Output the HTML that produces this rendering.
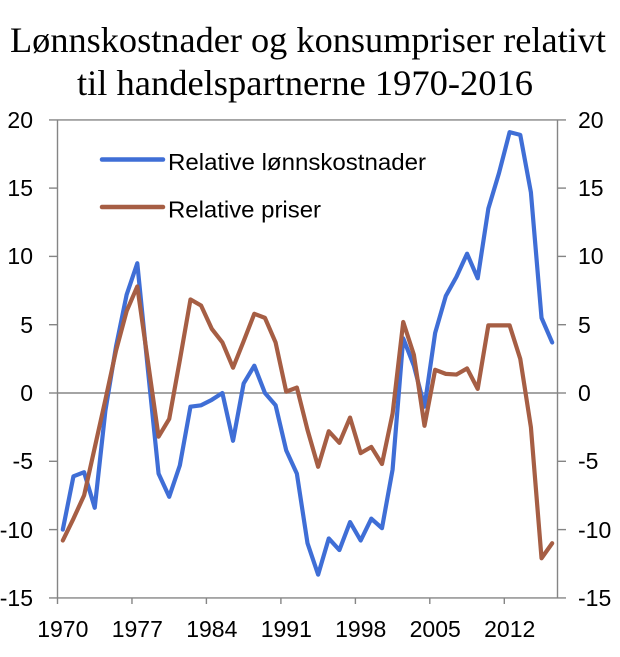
<!DOCTYPE html>
<html>
<head>
<meta charset="utf-8">
<style>
  html, body { margin: 0; padding: 0; background: #ffffff; }
  body { width: 620px; height: 657px; overflow: hidden; }
  svg { display: block; }
  .ax { stroke: #858585; stroke-width: 1.4; fill: none; }
  .lbl { font-family: "Liberation Sans", Arial, sans-serif; font-size: 23px; fill: #000; }
  .ttl { font-family: "Liberation Serif", "Times New Roman", serif; font-size: 36px; fill: #000; }
</style>
</head>
<body>
<svg width="620" height="657" viewBox="0 0 620 657" xmlns="http://www.w3.org/2000/svg">
  <rect x="0" y="0" width="620" height="657" fill="#ffffff"/>

  <!-- Title -->
  <text class="ttl" x="10" y="52" textLength="596" lengthAdjust="spacingAndGlyphs">Lønnskostnader og konsumpriser relativt</text>
  <text class="ttl" x="77" y="95" textLength="456" lengthAdjust="spacingAndGlyphs">til handelspartnerne 1970-2016</text>

  <!-- Plot frame -->
  <line class="ax" x1="49" y1="119.9" x2="566" y2="119.9"/>
  <line class="ax" x1="49" y1="597.9" x2="566" y2="597.9"/>
  <line class="ax" x1="57.5" y1="119.9" x2="57.5" y2="597.9"/>
  <line class="ax" x1="557.5" y1="119.9" x2="557.5" y2="597.9"/>
  <line class="ax" x1="57.5" y1="393" x2="557.5" y2="393"/>

  <!-- Left ticks -->
  <g class="ax">
    <line x1="49" y1="188.1" x2="57.5" y2="188.1"/>
    <line x1="49" y1="256.4" x2="57.5" y2="256.4"/>
    <line x1="49" y1="324.7" x2="57.5" y2="324.7"/>
    <line x1="49" y1="393" x2="57.5" y2="393"/>
    <line x1="49" y1="461.3" x2="57.5" y2="461.3"/>
    <line x1="49" y1="529.6" x2="57.5" y2="529.6"/>
  </g>
  <!-- Right ticks -->
  <g class="ax">
    <line x1="557.5" y1="188.1" x2="566" y2="188.1"/>
    <line x1="557.5" y1="256.4" x2="566" y2="256.4"/>
    <line x1="557.5" y1="324.7" x2="566" y2="324.7"/>
    <line x1="557.5" y1="393" x2="566" y2="393"/>
    <line x1="557.5" y1="461.3" x2="566" y2="461.3"/>
    <line x1="557.5" y1="529.6" x2="566" y2="529.6"/>
  </g>
  <!-- Bottom ticks -->
  <g class="ax">
    <line x1="57.5" y1="597.9" x2="57.5" y2="604"/>
    <line x1="131.97" y1="597.9" x2="131.97" y2="604"/>
    <line x1="206.4" y1="597.9" x2="206.4" y2="604"/>
    <line x1="280.9" y1="597.9" x2="280.9" y2="604"/>
    <line x1="355.4" y1="597.9" x2="355.4" y2="604"/>
    <line x1="429.8" y1="597.9" x2="429.8" y2="604"/>
    <line x1="504.3" y1="597.9" x2="504.3" y2="604"/>
  </g>

  <!-- Left axis labels -->
  <g class="lbl" text-anchor="end">
    <text x="33" y="128">20</text>
    <text x="33" y="196">15</text>
    <text x="33" y="264">10</text>
    <text x="33" y="333">5</text>
    <text x="33" y="401">0</text>
    <text x="33" y="469">-5</text>
    <text x="33" y="538">-10</text>
    <text x="33" y="606">-15</text>
  </g>
  <!-- Right axis labels -->
  <g class="lbl" text-anchor="start">
    <text x="578" y="128">20</text>
    <text x="578" y="196">15</text>
    <text x="578" y="264">10</text>
    <text x="578" y="333">5</text>
    <text x="578" y="401">0</text>
    <text x="578" y="469">-5</text>
    <text x="578" y="538">-10</text>
    <text x="578" y="606">-15</text>
  </g>
  <!-- Bottom labels -->
  <g class="lbl" text-anchor="middle">
    <text x="62.8" y="637">1970</text>
    <text x="137.3" y="637">1977</text>
    <text x="211.8" y="637">1984</text>
    <text x="286.3" y="637">1991</text>
    <text x="360.7" y="637">1998</text>
    <text x="435.2" y="637">2005</text>
    <text x="509.7" y="637">2012</text>
  </g>

  <!-- Series (data coords: x = year index, y = value) -->
  <g transform="matrix(10.638 0 0 -13.657 62.82 393)">
    <polyline fill="none" stroke="#3F6ED6" stroke-width="4.2" stroke-linejoin="round" stroke-linecap="round" vector-effect="non-scaling-stroke"
      points="0,-10.0 1,-6.1 2,-5.8 3,-8.4 4,-1.3 5,3.4 6,7.2 7,9.5 8,1.7 9,-5.9 10,-7.6 11,-5.3 12,-1.0 13,-0.9 14,-0.5 15,0.0 16,-3.5 17,0.7 18,2.0 19,0.0 20,-0.9 21,-4.2 22,-5.9 23,-11.0 24,-13.3 25,-10.65 26,-11.5 27,-9.45 28,-10.8 29,-9.2 30,-9.9 31,-5.6 32,4.0 33,2.0 34,-1.0 35,4.4 36,7.1 37,8.5 38,10.2 39,8.4 40,13.5 41,16.1 42,19.1 43,18.9 44,14.7 45,5.5 46,3.7"/>
    <polyline fill="none" stroke="#A65E44" stroke-width="4.2" stroke-linejoin="round" stroke-linecap="round" vector-effect="non-scaling-stroke"
      points="0,-10.8 1,-9.2 2,-7.5 3,-4.0 4,-0.5 5,3.1 6,6.0 7,7.8 8,2.3 9,-3.2 10,-1.9 11,2.4 12,6.85 13,6.4 14,4.7 15,3.7 16,1.85 17,3.8 18,5.8 19,5.5 20,3.7 21,0.1 22,0.4 23,-2.7 24,-5.4 25,-2.8 26,-3.65 27,-1.8 28,-4.4 29,-3.95 30,-5.2 31,-1.5 32,5.2 33,2.8 34,-2.4 35,1.7 36,1.4 37,1.35 38,1.8 39,0.3 40,4.95 41,4.95 42,4.95 43,2.5 44,-2.5 45,-12.1 46,-11.0"/>
  </g>

  <!-- Legend -->
  <line x1="102" y1="159.5" x2="163" y2="159.5" stroke="#3F6ED6" stroke-width="4.5" stroke-linecap="round"/>
  <text class="lbl" x="168" y="170" textLength="258" lengthAdjust="spacingAndGlyphs">Relative lønnskostnader</text>
  <line x1="102" y1="207" x2="163" y2="207" stroke="#A65E44" stroke-width="4.5" stroke-linecap="round"/>
  <text class="lbl" x="168" y="217.5" textLength="153" lengthAdjust="spacingAndGlyphs">Relative priser</text>
</svg>
</body>
</html>
